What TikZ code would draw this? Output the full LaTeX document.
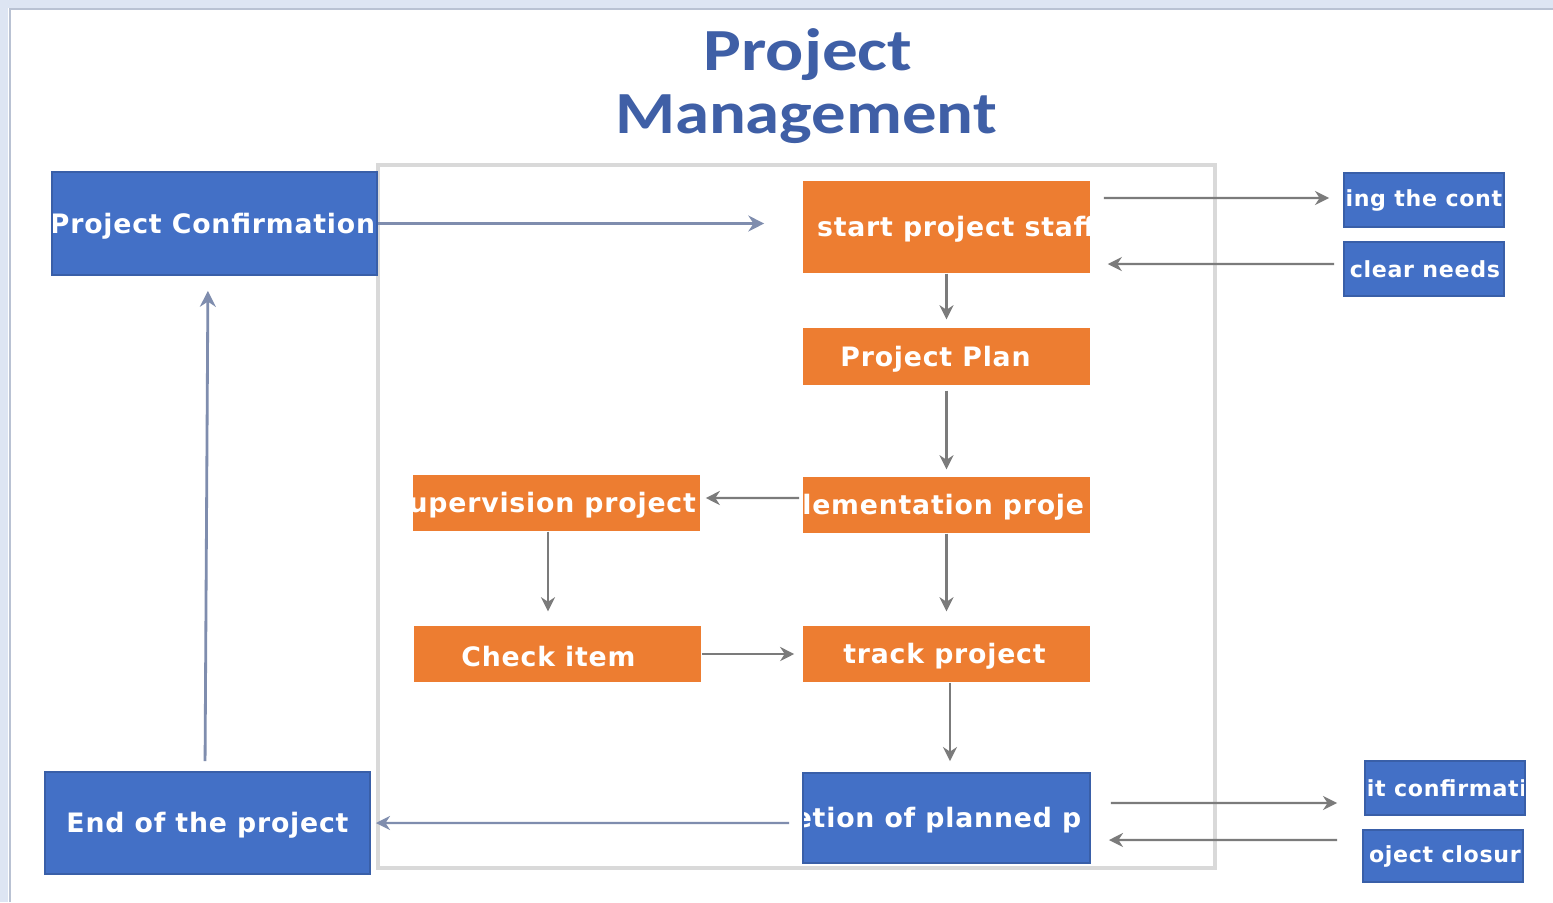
\documentclass[tikz,border=0pt]{standalone}
\usepackage{fontspec}
\setmainfont{DejaVu Sans}
\newfontfamily\boxfont[LetterSpace=3]{DejaVu Sans}
\newfontfamily\titlefont{Carlito}
\usetikzlibrary{arrows.meta,calc}
\definecolor{oblue}{HTML}{4370C6}
\definecolor{oorange}{HTML}{ED7D31}
\definecolor{ttl}{HTML}{3F5FA6}
\definecolor{arr}{HTML}{7B7B7B}
\definecolor{barr}{HTML}{7F8DAE}
\definecolor{framec}{HTML}{D9D9D9}
\definecolor{band}{HTML}{DDE5F3}
\definecolor{bandline}{HTML}{B9C2D3}
\begin{document}
\begin{tikzpicture}[x=0.01cm,y=-0.01cm,
  bbox/.style={fill=oblue, draw=oblue!85!black, line width=0.5pt, inner sep=0pt},
  obox/.style={fill=oorange, draw=none, inner sep=0pt},
  lbl/.style={font=\boxfont\bfseries\fontsize{7.6}{9}\selectfont, text=white, inner sep=0pt},
  slbl/.style={font=\boxfont\bfseries\fontsize{6.3}{8}\selectfont, text=white, inner sep=0pt},
  txt/.style n args={3}{path picture={\node[lbl,anchor=#1,xshift=#2*0.01cm,yshift=-0.025cm] at (path picture bounding box.#1) {#3};}},
  stxt/.style n args={2}{path picture={\node[slbl,anchor=west,xshift=#1*0.01cm] at (path picture bounding box.west) {#2};}},
  conn/.style={draw=arr, line width=0.6pt, -{Stealth[length=4pt,width=4pt]}},
  bconn/.style={draw=barr, line width=0.8pt, -{Stealth[length=4.5pt,width=4.5pt]}},
  ttlstyle/.style={font=\titlefont\bfseries\fontsize{17}{20}\selectfont, text=ttl, inner sep=0pt, anchor=base}
]
\useasboundingbox (0,0) rectangle (1553,902);
\fill[white] (0,0) rectangle (1553,902);
\fill[band] (0,0) rectangle (1553,8);
\fill[band] (0,0) rectangle (8,902);
\draw[bandline, line width=0.8pt] (10,902) -- (10,9) -- (1553,9);

% title
\node[ttlstyle] (t1) at (808,70) {\scalebox{1.19}[1]{Project}};
\node[ttlstyle] (t2) at (806,133) {\scalebox{1.15}[1]{Management}};

% inner frame
\draw[framec, line width=1pt] (378,165) rectangle (1215,868);

% boxes
\node[bbox, minimum width=3.25cm, minimum height=1.03cm, txt={center}{-2}{Project Confirmation}] (pc) at (214.5,223.5) {};
\node[obox, minimum width=2.87cm, minimum height=0.92cm, txt={west}{9}{start project staff}] (start) at (946.5,227) {};
\node[obox, minimum width=2.87cm, minimum height=0.57cm, txt={center}{-11}{Project Plan}] (plan) at (946.5,356.5) {};
\node[obox, minimum width=2.87cm, minimum height=0.56cm, txt={west}{-4}{lementation proje}] (impl) at (946.5,505) {};
\node[obox, minimum width=2.87cm, minimum height=0.56cm, txt={west}{-5}{upervision project}] (sup) at (556.5,503) {};
\node[obox, minimum width=2.87cm, minimum height=0.56cm, txt={center}{-9}{Check item}] (check) at (557.5,654) {};
\node[obox, minimum width=2.87cm, minimum height=0.56cm, txt={center}{-2}{track project}] (track) at (946.5,654) {};
\node[bbox, minimum width=2.87cm, minimum height=0.90cm, txt={west}{-10}{etion of planned p}] (comp) at (946.5,818) {};
\node[bbox, minimum width=3.25cm, minimum height=1.02cm, txt={center}{0}{End of the project}] (end) at (207.5,823) {};
\node[bbox, minimum width=1.60cm, minimum height=0.54cm, stxt={-1}{ing the cont}] (sign) at (1424,200) {};
\node[bbox, minimum width=1.60cm, minimum height=0.54cm, stxt={0}{clear needs}] (clear) at (1424,269) {};
\node[bbox, minimum width=1.60cm, minimum height=0.54cm, stxt={1}{it confirmati}] (audit) at (1445,788) {};
\node[bbox, minimum width=1.60cm, minimum height=0.52cm, stxt={1}{oject closur}] (closure) at (1443,856) {};

% connectors
\draw[bconn, shorten >=0.38cm] (pc.east) -- (pc.east -| start.west);
\draw[conn, shorten <=0.13cm, shorten >=0.14cm] ([yshift=0.29cm]start.east) -- ([yshift=0.02cm]sign.west);
\draw[conn, shorten <=0.09cm, shorten >=0.17cm] ([yshift=0.05cm]clear.west) -- ([yshift=-0.37cm]start.east);
\draw[conn, shorten >=0.08cm] (start.south) -- (plan.north);
\draw[conn, shorten <=0.05cm, shorten >=0.07cm] (plan.south) -- (impl.north);
\draw[conn, shorten <=0.03cm, shorten >=0.05cm] ([yshift=0.07cm]impl.west) -- ([yshift=0.05cm]sup.east);
\draw[conn, shorten >=0.14cm] ([xshift=-0.085cm]sup.south) -- ([xshift=-0.085cm]sup.south |- check.north);
\draw[conn, shorten >=0.08cm] (check.east) -- (track.west);
\draw[conn, shorten >=0.14cm] (impl.south) -- (track.north);
\draw[conn, shorten >=0.11cm] ([xshift=0.035cm]track.south) -- ([xshift=0.035cm]comp.north);
\draw[conn, draw=barr, shorten <=0.13cm, shorten >=0.05cm] ([yshift=-0.05cm]comp.west) -- (end.east);
\draw[bconn, shorten <=0.10cm, shorten >=0.15cm] ([xshift=-0.025cm]end.north) -- ([xshift=-0.065cm]pc.south);
\draw[conn, shorten <=0.20cm, shorten >=0.27cm] ([yshift=0.15cm]comp.east) -- ([yshift=-0.15cm]audit.west);
\draw[conn, shorten <=0.25cm, shorten >=0.18cm] ([yshift=0.16cm]closure.west) -- ([yshift=-0.22cm]comp.east);
\end{tikzpicture}
\end{document}
